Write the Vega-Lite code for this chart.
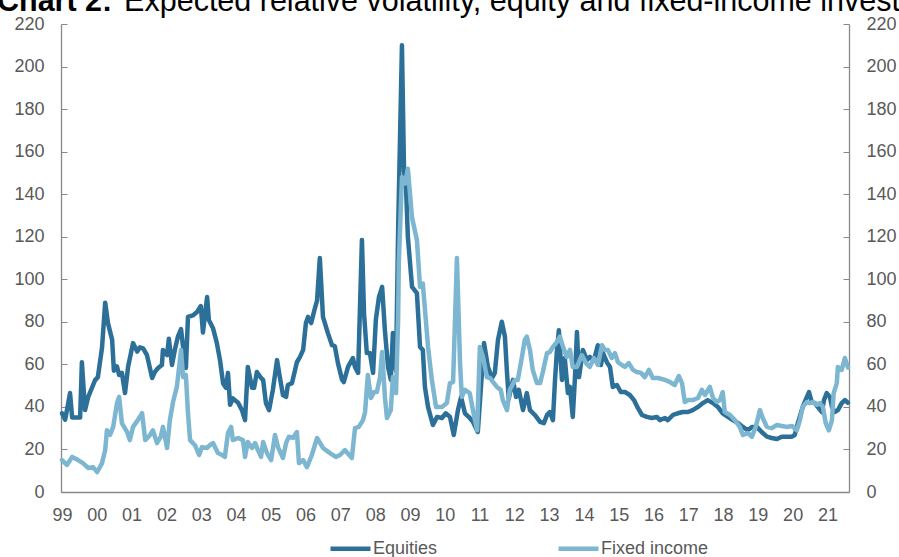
{
  "$schema": "https://vega.github.io/schema/vega-lite/v6.json",
  "autosize": {"type": "none"},
  "padding": {"left": 61, "top": 24, "right": 50, "bottom": 65},
  "width": 788,
  "height": 468,
  "background": "white",
  "title": {
    "text": "Chart 2:",
    "subtitle": "\u200b\u00a0\u00a0\u00a0\u00a0\u00a0\u00a0\u00a0\u00a0\u00a0\u00a0\u00a0\u00a0\u00a0\u00a0\u00a0Expected relative volatility, equity and fixed-income investors",
    "anchor": "start",
    "frame": "group",
    "dx": -64,
    "offset": -2,
    "font": "Liberation Sans",
    "fontSize": 30.5,
    "fontWeight": "bold",
    "color": "#000000",
    "subtitleFont": "Liberation Sans",
    "subtitleFontSize": 30.5,
    "subtitleFontWeight": "normal",
    "subtitleColor": "#000000",
    "subtitlePadding": -30.5,
    "limit": 3000
  },
  "config": {
    "view": {"stroke": null},
    "font": "Liberation Sans",
    "axis": {"grid": false, "title": null},
    "axisX": {"labelOverlap": false, "labelFlush": false}
  },
  "datasets": {
    "eq": [
      {"t":1999.00,"v":37},{"t":1999.09,"v":34},{"t":1999.23,"v":46.5},{"t":1999.29,"v":35},{"t":1999.37,"v":35},{"t":1999.52,"v":35},{"t":1999.57,"v":61},{"t":1999.66,"v":38.5},{"t":1999.75,"v":44.6},{"t":1999.86,"v":49},{"t":1999.95,"v":52.6},
      {"t":2000.03,"v":54},{"t":2000.15,"v":68},{"t":2000.24,"v":89},{"t":2000.32,"v":79.4},{"t":2000.44,"v":71.5},{"t":2000.49,"v":57},{"t":2000.58,"v":59},{"t":2000.64,"v":55},{"t":2000.72,"v":56},{"t":2000.81,"v":46.5},{"t":2000.90,"v":59},
      {"t":2001.04,"v":70},{"t":2001.16,"v":66},{"t":2001.24,"v":68},{"t":2001.33,"v":67.5},{"t":2001.44,"v":64.4},{"t":2001.59,"v":53.6},{"t":2001.67,"v":56.5},{"t":2001.76,"v":58.3},{"t":2001.87,"v":59.7},{"t":2001.90,"v":66.8},
      {"t":2002.02,"v":64.4},{"t":2002.07,"v":72},{"t":2002.16,"v":59.7},{"t":2002.25,"v":67.5},{"t":2002.33,"v":73},{"t":2002.42,"v":76.6},{"t":2002.48,"v":68},{"t":2002.56,"v":58.3},{"t":2002.62,"v":82.3},{"t":2002.76,"v":83},{"t":2002.88,"v":84.6},{"t":2002.99,"v":87.4},
      {"t":2003.05,"v":75},{"t":2003.17,"v":91.7},{"t":2003.22,"v":80.9},{"t":2003.34,"v":77},{"t":2003.45,"v":70},{"t":2003.54,"v":62},{"t":2003.63,"v":51},{"t":2003.71,"v":49},{"t":2003.77,"v":56},{"t":2003.83,"v":41},{"t":2003.91,"v":44},
      {"t":2004.06,"v":42},{"t":2004.17,"v":38.5},{"t":2004.26,"v":33.8},{"t":2004.34,"v":58.8},{"t":2004.46,"v":49},{"t":2004.52,"v":49},{"t":2004.60,"v":56.4},{"t":2004.72,"v":53.6},{"t":2004.78,"v":52.7},{"t":2004.86,"v":41.8},{"t":2004.95,"v":38.5},
      {"t":2005.06,"v":48},{"t":2005.18,"v":62},{"t":2005.26,"v":54},{"t":2005.35,"v":45.6},{"t":2005.44,"v":44.7},{"t":2005.49,"v":50.3},{"t":2005.61,"v":51.2},{"t":2005.75,"v":61},{"t":2005.84,"v":63.5},{"t":2005.93,"v":66.8},
      {"t":2006.01,"v":79.4},{"t":2006.07,"v":82.3},{"t":2006.16,"v":79.4},{"t":2006.27,"v":86.5},{"t":2006.33,"v":90},{"t":2006.41,"v":110},{"t":2006.50,"v":82.3},{"t":2006.64,"v":74.8},{"t":2006.76,"v":69},{"t":2006.84,"v":68.6},{"t":2006.93,"v":60.6},
      {"t":2007.05,"v":52.7},{"t":2007.10,"v":51.7},{"t":2007.22,"v":58.8},{"t":2007.36,"v":63},{"t":2007.42,"v":58.8},{"t":2007.51,"v":56},{"t":2007.62,"v":118.5},{"t":2007.68,"v":84},{"t":2007.76,"v":65.3},{"t":2007.85,"v":65.3},{"t":2007.94,"v":56},
      {"t":2008.02,"v":81},{"t":2008.11,"v":91.7},{"t":2008.20,"v":96.4},{"t":2008.28,"v":76},{"t":2008.37,"v":58.8},{"t":2008.45,"v":52.7},{"t":2008.51,"v":74.8},{"t":2008.60,"v":57},{"t":2008.66,"v":123},{"t":2008.77,"v":210},{"t":2008.83,"v":151},{"t":2008.89,"v":142},{"t":2008.94,"v":120},
      {"t":2009.06,"v":96.4},{"t":2009.20,"v":93.5},{"t":2009.29,"v":68.2},{"t":2009.37,"v":66.8},{"t":2009.43,"v":49.4},{"t":2009.52,"v":40},{"t":2009.66,"v":31.5},{"t":2009.78,"v":35.3},{"t":2009.92,"v":34.8},
      {"t":2010.03,"v":37},{"t":2010.15,"v":35.3},{"t":2010.26,"v":26.8},{"t":2010.38,"v":38.5},{"t":2010.47,"v":44.7},{"t":2010.58,"v":37},{"t":2010.72,"v":34.8},{"t":2010.81,"v":33},{"t":2010.95,"v":28.2},
      {"t":2011.13,"v":70},{"t":2011.24,"v":58.8},{"t":2011.36,"v":53.6},{"t":2011.44,"v":56},{"t":2011.53,"v":71.5},{"t":2011.64,"v":80},{"t":2011.73,"v":73},{"t":2011.79,"v":56},{"t":2011.84,"v":44},{"t":2011.96,"v":52.7},
      {"t":2012.05,"v":44.7},{"t":2012.13,"v":48},{"t":2012.25,"v":38.5},{"t":2012.36,"v":46.5},{"t":2012.45,"v":38.5},{"t":2012.59,"v":36.2},{"t":2012.74,"v":33},{"t":2012.85,"v":32.4},{"t":2012.94,"v":36.2},
      {"t":2013.02,"v":37.6},{"t":2013.11,"v":33.8},{"t":2013.17,"v":52.7},{"t":2013.22,"v":65.3},{"t":2013.28,"v":76},{"t":2013.37,"v":52.7},{"t":2013.45,"v":63},{"t":2013.54,"v":46.5},{"t":2013.60,"v":49.4},{"t":2013.68,"v":35.3},{"t":2013.74,"v":52.7},{"t":2013.80,"v":75.2},{"t":2013.86,"v":54},{"t":2013.97,"v":66.8},
      {"t":2014.09,"v":62},{"t":2014.17,"v":63.5},{"t":2014.29,"v":62},{"t":2014.40,"v":69},{"t":2014.49,"v":59.7},{"t":2014.55,"v":65.3},{"t":2014.66,"v":61},{"t":2014.75,"v":58.8},{"t":2014.83,"v":49.4},{"t":2014.95,"v":50.3},
      {"t":2015.06,"v":47},{"t":2015.18,"v":47},{"t":2015.32,"v":45.6},{"t":2015.44,"v":43.2},{"t":2015.55,"v":39.5},{"t":2015.67,"v":36.2},{"t":2015.81,"v":35.3},{"t":2015.95,"v":34.8},
      {"t":2016.10,"v":35.3},{"t":2016.18,"v":33.8},{"t":2016.33,"v":34.8},{"t":2016.41,"v":33.8},{"t":2016.56,"v":36.2},{"t":2016.70,"v":37},{"t":2016.84,"v":37.6},{"t":2016.99,"v":37.6},
      {"t":2017.13,"v":38.5},{"t":2017.28,"v":40},{"t":2017.42,"v":41.8},{"t":2017.56,"v":43.2},{"t":2017.71,"v":41.8},{"t":2017.85,"v":40},{"t":2017.99,"v":37},
      {"t":2018.14,"v":35.3},{"t":2018.28,"v":33.8},{"t":2018.43,"v":32.4},{"t":2018.57,"v":30.6},{"t":2018.71,"v":29},{"t":2018.83,"v":30.6},{"t":2018.97,"v":30.6},
      {"t":2019.11,"v":28.2},{"t":2019.26,"v":26},{"t":2019.40,"v":25.4},{"t":2019.55,"v":24.9},{"t":2019.69,"v":26},{"t":2019.83,"v":26},{"t":2019.98,"v":26},
      {"t":2020.06,"v":26.8},{"t":2020.15,"v":32.4},{"t":2020.29,"v":40},{"t":2020.41,"v":44.7},{"t":2020.47,"v":47},{"t":2020.55,"v":42.3},{"t":2020.64,"v":41.8},{"t":2020.72,"v":40},{"t":2020.84,"v":37.6},{"t":2020.90,"v":43.2},{"t":2020.98,"v":46.5},
      {"t":2021.07,"v":44.7},{"t":2021.13,"v":40},{"t":2021.21,"v":37.6},{"t":2021.30,"v":38.5},{"t":2021.41,"v":41.8},{"t":2021.50,"v":43.2},{"t":2021.59,"v":42}
    ],
    "fi": [
      {"t":1999.00,"v":15},{"t":1999.14,"v":12.7},{"t":1999.29,"v":16.5},{"t":1999.46,"v":15},{"t":1999.60,"v":13.6},{"t":1999.75,"v":11.3},{"t":1999.89,"v":11.7},
      {"t":2000.01,"v":9.4},{"t":2000.15,"v":13.6},{"t":2000.24,"v":19.7},{"t":2000.29,"v":29},{"t":2000.38,"v":26.8},{"t":2000.47,"v":30.6},{"t":2000.58,"v":41.8},{"t":2000.64,"v":44.7},{"t":2000.72,"v":32.4},{"t":2000.87,"v":28.2},{"t":2000.95,"v":24.4},
      {"t":2001.04,"v":30.6},{"t":2001.18,"v":33.8},{"t":2001.30,"v":37.1},{"t":2001.39,"v":24.4},{"t":2001.53,"v":26.8},{"t":2001.61,"v":29},{"t":2001.73,"v":23},{"t":2001.84,"v":26},{"t":2001.90,"v":30.6},
      {"t":2002.02,"v":20.7},{"t":2002.10,"v":33.8},{"t":2002.19,"v":42.3},{"t":2002.30,"v":49.4},{"t":2002.42,"v":66.8},{"t":2002.48,"v":54},{"t":2002.56,"v":55},{"t":2002.62,"v":37},{"t":2002.68,"v":24.4},{"t":2002.82,"v":22},{"t":2002.94,"v":17.4},
      {"t":2003.02,"v":21},{"t":2003.17,"v":20.7},{"t":2003.25,"v":22},{"t":2003.34,"v":23},{"t":2003.48,"v":18.3},{"t":2003.60,"v":17.4},{"t":2003.68,"v":16.5},{"t":2003.77,"v":27.7},{"t":2003.86,"v":30.6},{"t":2003.91,"v":24.4},
      {"t":2004.06,"v":25.4},{"t":2004.20,"v":24.4},{"t":2004.26,"v":16.5},{"t":2004.34,"v":23.5},{"t":2004.46,"v":20.7},{"t":2004.55,"v":23},{"t":2004.63,"v":19.7},{"t":2004.72,"v":16.5},{"t":2004.78,"v":23.5},{"t":2004.89,"v":18.3},
      {"t":2005.01,"v":15},{"t":2005.12,"v":26.8},{"t":2005.21,"v":21},{"t":2005.35,"v":16},{"t":2005.44,"v":23},{"t":2005.52,"v":26},{"t":2005.64,"v":25.4},{"t":2005.75,"v":28.2},{"t":2005.81,"v":13.6},{"t":2005.93,"v":15},
      {"t":2006.04,"v":11.7},{"t":2006.18,"v":17.4},{"t":2006.33,"v":25.4},{"t":2006.50,"v":20.7},{"t":2006.70,"v":18.3},{"t":2006.87,"v":16.5},{"t":2006.99,"v":17.4},
      {"t":2007.13,"v":19.7},{"t":2007.33,"v":16},{"t":2007.42,"v":30},{"t":2007.53,"v":30.6},{"t":2007.65,"v":33.8},{"t":2007.71,"v":37.6},{"t":2007.79,"v":55},{"t":2007.88,"v":44.2},{"t":2007.97,"v":47},
      {"t":2008.05,"v":47},{"t":2008.14,"v":54},{"t":2008.20,"v":65.8},{"t":2008.28,"v":44.7},{"t":2008.34,"v":34.8},{"t":2008.45,"v":38.5},{"t":2008.51,"v":54},{"t":2008.60,"v":46.5},{"t":2008.66,"v":81},{"t":2008.68,"v":107.6},{"t":2008.77,"v":148},{"t":2008.86,"v":145},{"t":2008.94,"v":152},
      {"t":2009.06,"v":129},{"t":2009.20,"v":118.5},{"t":2009.29,"v":96.4},{"t":2009.37,"v":98},{"t":2009.52,"v":68.2},{"t":2009.63,"v":52.7},{"t":2009.75,"v":40},{"t":2009.92,"v":40},
      {"t":2010.06,"v":41.8},{"t":2010.15,"v":51.2},{"t":2010.24,"v":51.7},{"t":2010.35,"v":110},{"t":2010.44,"v":60.6},{"t":2010.49,"v":44.7},{"t":2010.58,"v":48},{"t":2010.72,"v":46.5},{"t":2010.81,"v":38.5},{"t":2010.93,"v":29},
      {"t":2011.01,"v":68.2},{"t":2011.10,"v":63.5},{"t":2011.21,"v":54},{"t":2011.30,"v":53.6},{"t":2011.39,"v":51.7},{"t":2011.50,"v":49.4},{"t":2011.61,"v":48},{"t":2011.67,"v":43.2},{"t":2011.79,"v":38.5},{"t":2011.87,"v":48},
      {"t":2012.02,"v":52.7},{"t":2012.10,"v":52.7},{"t":2012.22,"v":63.5},{"t":2012.30,"v":71.5},{"t":2012.36,"v":73},{"t":2012.45,"v":66.8},{"t":2012.53,"v":57.4},{"t":2012.65,"v":51.2},{"t":2012.74,"v":51.2},{"t":2012.82,"v":56.4},{"t":2012.94,"v":65.3},
      {"t":2013.02,"v":65.8},{"t":2013.11,"v":68.2},{"t":2013.22,"v":70.5},{"t":2013.31,"v":73},{"t":2013.40,"v":68.2},{"t":2013.51,"v":63.5},{"t":2013.60,"v":66.8},{"t":2013.68,"v":58.8},{"t":2013.80,"v":58.8},{"t":2013.94,"v":64.4},
      {"t":2014.06,"v":60.6},{"t":2014.17,"v":58.8},{"t":2014.29,"v":63},{"t":2014.40,"v":59.7},{"t":2014.52,"v":69},{"t":2014.60,"v":66.8},{"t":2014.69,"v":66.8},{"t":2014.80,"v":63},{"t":2014.89,"v":65.3},{"t":2014.98,"v":61},
      {"t":2015.09,"v":59.7},{"t":2015.18,"v":58.8},{"t":2015.29,"v":60.6},{"t":2015.41,"v":57.4},{"t":2015.52,"v":56.4},{"t":2015.64,"v":56},{"t":2015.75,"v":54},{"t":2015.87,"v":57.4},{"t":2015.98,"v":53.6},
      {"t":2016.13,"v":53.6},{"t":2016.33,"v":52.7},{"t":2016.47,"v":51.7},{"t":2016.61,"v":50.3},{"t":2016.73,"v":54.5},{"t":2016.82,"v":51.2},{"t":2016.90,"v":42.3},{"t":2016.99,"v":43.2},
      {"t":2017.13,"v":43.2},{"t":2017.28,"v":44.2},{"t":2017.39,"v":48},{"t":2017.48,"v":45.6},{"t":2017.62,"v":49.4},{"t":2017.71,"v":44.2},{"t":2017.82,"v":42.3},{"t":2017.91,"v":43.2},{"t":2017.99,"v":47},
      {"t":2018.05,"v":37.6},{"t":2018.20,"v":36.2},{"t":2018.34,"v":33.8},{"t":2018.48,"v":30.6},{"t":2018.57,"v":26.8},{"t":2018.71,"v":27.7},{"t":2018.83,"v":26},{"t":2018.94,"v":30.6},
      {"t":2019.06,"v":38.5},{"t":2019.14,"v":34.8},{"t":2019.26,"v":30.6},{"t":2019.40,"v":30},{"t":2019.55,"v":31.5},{"t":2019.69,"v":31},{"t":2019.83,"v":30.6},{"t":2019.98,"v":31},
      {"t":2020.12,"v":29},{"t":2020.21,"v":33.8},{"t":2020.29,"v":40},{"t":2020.41,"v":42.3},{"t":2020.49,"v":41.8},{"t":2020.58,"v":42.3},{"t":2020.70,"v":41},{"t":2020.78,"v":41.8},{"t":2020.87,"v":40},{"t":2020.95,"v":32.4},
      {"t":2021.04,"v":29},{"t":2021.13,"v":33.8},{"t":2021.18,"v":46.5},{"t":2021.27,"v":51.2},{"t":2021.30,"v":58.8},{"t":2021.41,"v":57.4},{"t":2021.50,"v":63},{"t":2021.59,"v":58.5}
    ]
  },
  "layer": [
    {
      "data": {"name": "eq"},
      "mark": {"type": "line", "strokeWidth": 4.5, "strokeJoin": "round", "strokeCap": "round"},
      "encoding": {
        "x": {
          "field": "t", "type": "quantitative",
          "scale": {"domain": [1998.97, 2021.62], "nice": false, "zero": false},
          "axis": {
            "orient": "bottom",
            "values": [1999,2000,2001,2002,2003,2004,2005,2006,2007,2008,2009,2010,2011,2012,2013,2014,2015,2016,2017,2018,2019,2020,2021],
            "labelExpr": "slice(toString(datum.value), 2)",
            "ticks": false,
            "domainColor": "#888888",
            "domainWidth": 1.3,
            "labelColor": "#595959",
            "labelFontSize": 18,
            "labelPadding": 14,
            "labelFlush": false,
            "labelOverlap": false
          }
        },
        "y": {
          "field": "v", "type": "quantitative",
          "scale": {"domain": [0, 220], "nice": false},
          "axis": {
            "orient": "left",
            "values": [0,20,40,60,80,100,120,140,160,180,200,220],
            "tickSize": -6,
            "tickColor": "#888888",
            "domainColor": "#888888",
            "domainWidth": 1.3,
            "labelColor": "#595959",
            "labelFontSize": 18,
            "labelPadding": 23,
            "labelFlush": false,
            "labelOverlap": false
          }
        },
        "color": {
          "datum": "Equities",
          "type": "nominal",
          "scale": {"domain": ["Equities", "Fixed income"], "range": ["#2C7099", "#7CB6D0"]},
          "legend": {
            "orient": "none",
            "legendX": 267,
            "legendY": 502,
            "direction": "horizontal",
            "title": null,
            "symbolType": "stroke",
            "symbolSize": 1600,
            "symbolStrokeWidth": 4.5,
            "labelFontSize": 18,
            "labelColor": "#595959",
            "labelOffset": 0,
            "columnPadding": 111
          }
        }
      }
    },
    {
      "data": {"name": "fi"},
      "mark": {"type": "line", "strokeWidth": 4.5, "strokeJoin": "round", "strokeCap": "round"},
      "encoding": {
        "x": {
          "field": "t", "type": "quantitative",
          "scale": {"domain": [1998.97, 2021.62], "nice": false, "zero": false},
          "axis": {
            "orient": "bottom",
            "values": [1999,2000,2001,2002,2003,2004,2005,2006,2007,2008,2009,2010,2011,2012,2013,2014,2015,2016,2017,2018,2019,2020,2021],
            "labelExpr": "slice(toString(datum.value), 2)",
            "ticks": false,
            "domainColor": "#888888",
            "domainWidth": 1.3,
            "labelColor": "#595959",
            "labelFontSize": 18,
            "labelPadding": 14,
            "labelFlush": false,
            "labelOverlap": false
          }
        },
        "y": {
          "field": "v", "type": "quantitative",
          "scale": {"domain": [0, 220], "nice": false},
          "axis": {
            "orient": "right",
            "values": [0,20,40,60,80,100,120,140,160,180,200,220],
            "tickSize": -6,
            "tickColor": "#888888",
            "domainColor": "#888888",
            "domainWidth": 1.3,
            "labelColor": "#595959",
            "labelFontSize": 18,
            "labelPadding": 23,
            "labelFlush": false,
            "labelOverlap": false
          }
        },
        "color": {"datum": "Fixed income", "type": "nominal"}
      }
    }
  ],
  "resolve": {"axis": {"y": "independent"}}
}
